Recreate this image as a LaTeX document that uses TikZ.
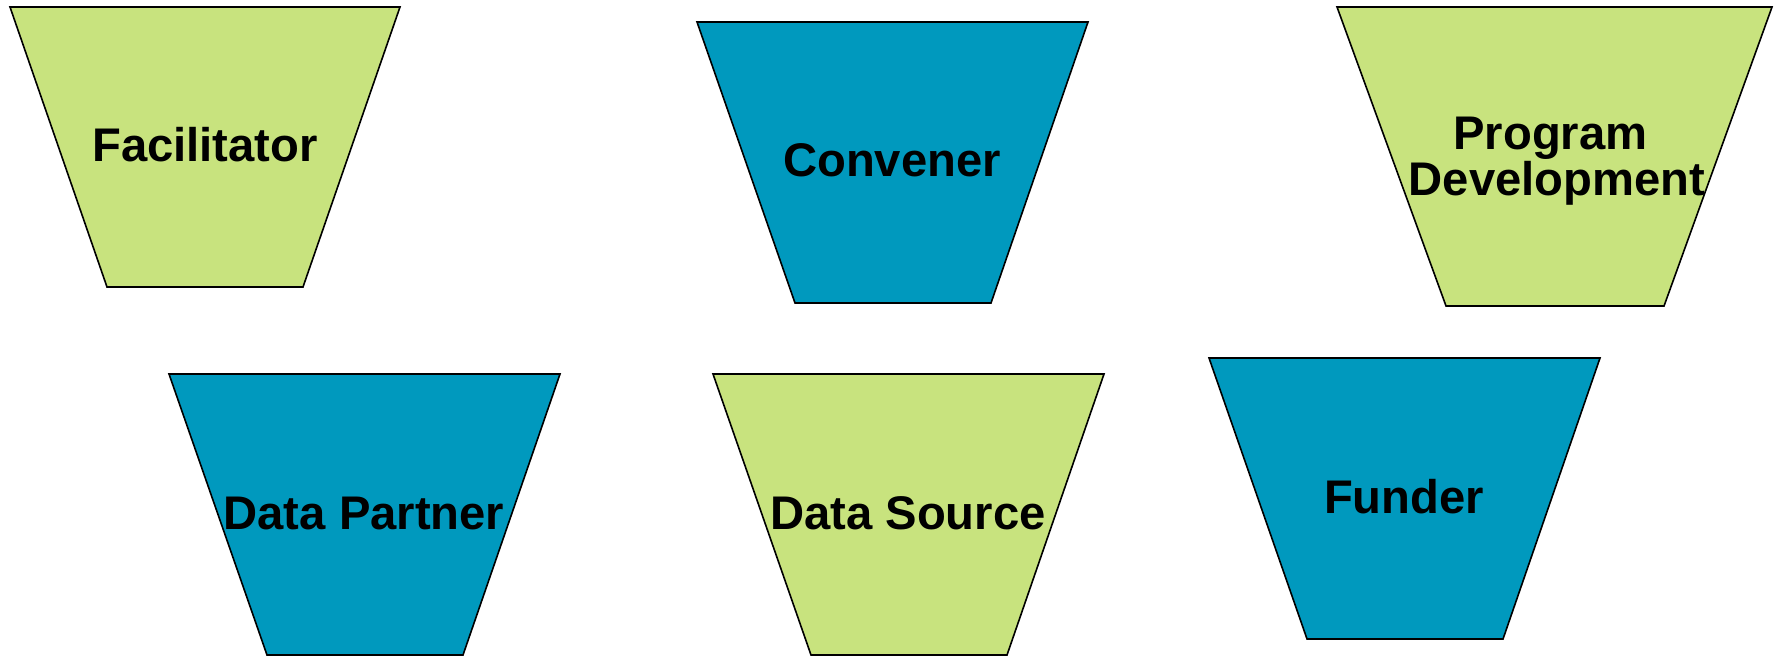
\documentclass[tikz,border=0pt]{standalone}
\usepackage{fontspec}
\setmainfont{Liberation Sans}
\usepackage{xcolor}
\usepackage{tikz}

\definecolor{rolegreen}{RGB}{200,227,126}
\definecolor{roleblue}{RGB}{0,153,190}

\tikzset{
  rolebox/.style={draw=black, line width=0.8pt, line join=miter},
  rolelabel/.style={font=\bfseries\fontsize{23.6}{23}\selectfont, align=center, inner sep=0pt}
}

\begin{document}
\begin{tikzpicture}[x=0.5pt, y=-0.5pt]
\useasboundingbox (0,0) rectangle (1780,657);

% top row
\draw[rolebox, fill=rolegreen] (10,7) -- (400,7) -- (303,287) -- (107,287) -- cycle;
\node[rolelabel] (facilitator) at (205,145) {Facilitator};

\draw[rolebox, fill=roleblue] (697,22) -- (1088,22) -- (991,303) -- (795,303) -- cycle;
\node[rolelabel] (convener) at (892,160) {Convener};

\draw[rolebox, fill=rolegreen] (1337,7) -- (1772,7) -- (1664,306) -- (1446,306) -- cycle;
\node[rolelabel] (program) at (1557,161) {Program\kern0.278em\\Development};

% bottom row
\draw[rolebox, fill=roleblue] (169,374) -- (560,374) -- (463,655) -- (267,655) -- cycle;
\node[rolelabel] (partner) at (364,513) {Data Partner};

\draw[rolebox, fill=rolegreen] (713,374) -- (1104,374) -- (1007,655) -- (811,655) -- cycle;
\node[rolelabel] (source) at (908,513) {Data Source};

\draw[rolebox, fill=roleblue] (1209,358) -- (1600,358) -- (1503,639) -- (1307,639) -- cycle;
\node[rolelabel] (funder) at (1404,497) {Funder};
\end{tikzpicture}
\end{document}
